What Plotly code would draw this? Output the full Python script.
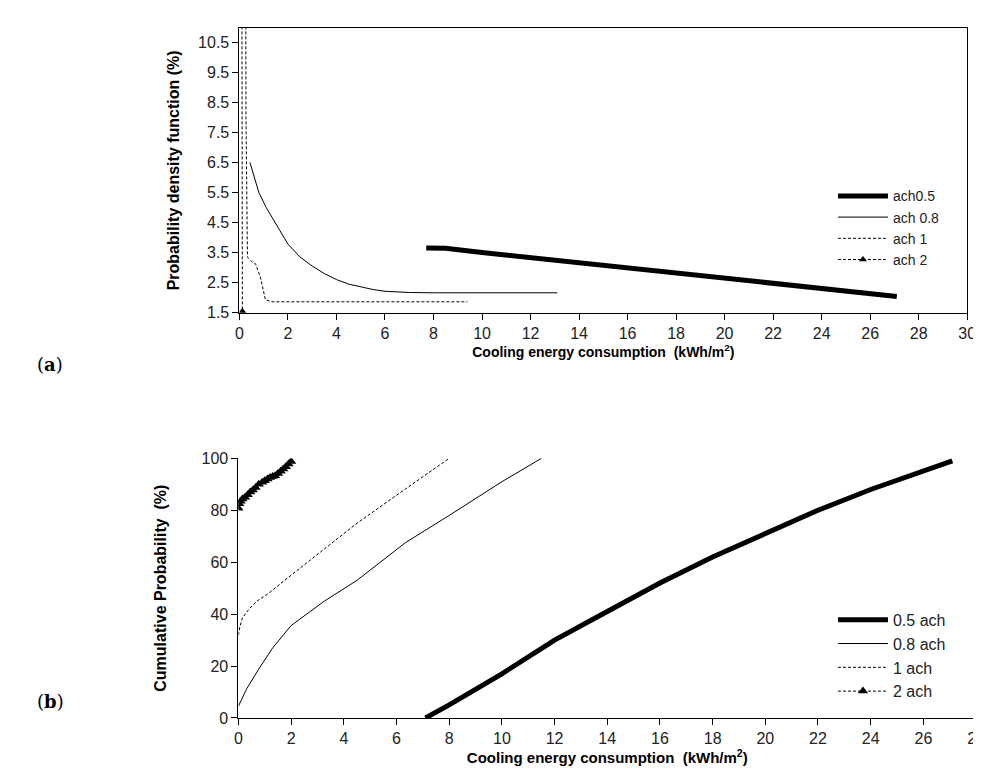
import plotly.graph_objects as go

# ---------- (a) Probability density function ----------
pdf_ach05_x = [7.7, 8.0, 8.5, 10, 12, 14, 16, 18, 20, 22, 24, 26, 27.1]
pdf_ach05_y = [3.65, 3.65, 3.64, 3.5, 3.33, 3.15, 2.98, 2.81, 2.65, 2.49, 2.33, 2.16, 2.04]
pdf_ach08_x = [0.43, 0.6, 0.8, 1.1, 1.5, 2.0, 2.5, 3.0, 3.5, 4.0, 4.5, 5.0, 5.5, 6.0, 6.5, 7.0, 8.0, 10, 12, 13.1]
pdf_ach08_y = [6.5, 6.0, 5.5, 5.0, 4.45, 3.78, 3.35, 3.05, 2.8, 2.6, 2.45, 2.35, 2.27, 2.21, 2.18, 2.17, 2.16, 2.16, 2.16, 2.16]
pdf_ach1_x = [0.22, 0.27, 0.33, 0.5, 0.66, 0.86, 1.07, 1.34, 9.4]
pdf_ach1_y = [25, 8, 3.35, 3.2, 3.13, 2.69, 1.93, 1.86, 1.86]
pdf_ach2_x = [0.08, 0.12]
pdf_ach2_y = [25, 1.55]

# ---------- (b) Cumulative probability ----------
cdf_05_x = [7.1, 8, 10, 12, 14, 16, 18, 20, 22, 24, 26, 27.1]
cdf_05_y = [0, 5, 17, 30, 41, 52, 62, 71, 80, 88, 95, 99]
cdf_08_x = [0, 0.3, 0.75, 1.3, 2.0, 3.26, 4.5, 6.35, 8, 10, 11.5]
cdf_08_y = [4.5, 11, 18.5, 27, 35.6, 45, 53, 67.6, 78, 91, 100]
cdf_1_x = [0, 0.05, 0.15, 0.39, 0.7, 1.14, 2, 3.26, 4.5, 6.35, 8.0]
cdf_1_y = [31.9, 35, 38.5, 41.8, 45, 48, 55, 65, 75, 88.3, 100]
cdf_2_x = [0, 0.03, 0.08, 0.15, 0.25, 0.35, 0.45, 0.55, 0.65, 0.77, 0.9, 1.0, 1.1, 1.2, 1.3, 1.39, 1.5, 1.6, 1.7, 1.8, 1.9, 2.0]
cdf_2_y = [80.8, 82.5, 83.5, 84.3, 85, 86, 87, 87.8, 88.8, 90, 90.8, 91.4, 92, 92.6, 93, 93.3, 94.2, 95, 95.9, 96.8, 97.8, 98.8]

top_names = ["ach0.5", "ach 0.8", "ach 1", "ach 2"]
bot_names = ["0.5 ach", "0.8 ach", "1 ach", "2 ach"]

W, H = 981, 773
FONT = "Liberation Sans, Arial, sans-serif"

def px(x):
    return x / W

def py(y):
    return 1 - y / H

fig = go.Figure()

def add(x, y, name, xa, ya, leg, width, dash, marker=False, grp="", msize=7):
    fig.add_trace(go.Scatter(
        x=x, y=y, name=name, xaxis=xa, yaxis=ya, legend=leg, legendgroup=grp,
        mode="lines+markers" if marker else "lines",
        line=dict(color="black", width=width, dash=dash),
        marker=dict(symbol="triangle-up", size=msize, color="black") if marker else None,
        cliponaxis=True,
    ))

add(pdf_ach05_x, pdf_ach05_y, top_names[0], "x", "y", "legend", 5, "solid", grp="t1")
add(pdf_ach08_x, pdf_ach08_y, top_names[1], "x", "y", "legend", 1, "solid", grp="t2")
add(pdf_ach1_x, pdf_ach1_y, top_names[2], "x", "y", "legend", 1, "3px,2px", grp="t3")
add(pdf_ach2_x, pdf_ach2_y, top_names[3], "x", "y", "legend", 1, "3px,2px", marker=True, grp="t4")

add(cdf_05_x, cdf_05_y, bot_names[0], "x2", "y2", "legend2", 5, "solid", grp="b1")
add(cdf_08_x, cdf_08_y, bot_names[1], "x2", "y2", "legend2", 1, "solid", grp="b2")
add(cdf_1_x, cdf_1_y, bot_names[2], "x2", "y2", "legend2", 1, "3px,2px", grp="b3")
add(cdf_2_x, cdf_2_y, bot_names[3], "x2", "y2", "legend2", 1, "3px,2px", marker=True, grp="b4", msize=9)

axis_common = dict(showline=True, linecolor="black", linewidth=1, ticks="outside",
                   ticklen=6, tickcolor="black", tickwidth=1, showgrid=False,
                   zeroline=False, tickfont=dict(family=FONT, size=16, color="#222"))

fig.update_layout(
    width=W, height=H,
    margin=dict(l=0, r=0, t=0, b=0),
    paper_bgcolor="white", plot_bgcolor="white",
    font=dict(family=FONT, color="black"),
    xaxis=dict(domain=[px(230.5), px(968)], range=[0, 30], tick0=0, dtick=2,
               anchor="y", mirror=True,
               title=dict(text="<b>Cooling energy consumption  (kWh/m<sup>2</sup>)</b>",
                          font=dict(family=FONT, size=14), standoff=2),
               **axis_common),
    yaxis=dict(domain=[py(303.3), py(12.3)], range=[1.5, 10.97], tick0=1.5, dtick=1,
               tickformat=".1f", anchor="x", mirror=True,
               title=dict(text="<b>Probability density function (%)</b>",
                          font=dict(family=FONT, size=16), standoff=14),
               **axis_common),
    xaxis2=dict(domain=[px(229.5), px(977)], range=[0, 28], tick0=0, dtick=2,
                anchor="y2",
                title=dict(text="<b>Cooling energy consumption  (kWh/m<sup>2</sup>)</b>",
                           font=dict(family=FONT, size=15), standoff=4),
                **axis_common),
    yaxis2=dict(domain=[py(717.7), py(452.3)], range=[0, 100], tick0=0, dtick=20,
                anchor="x2",
                title=dict(text="<b>Cumulative Probability  (%)</b>",
                           font=dict(family=FONT, size=16), standoff=30),
                **axis_common),
    legend=dict(x=px(832), y=py(168), xanchor="left", yanchor="top",
                bgcolor="rgba(0,0,0,0)", borderwidth=0, itemwidth=50,
                tracegroupgap=0, font=dict(family=FONT, size=14, color="#222")),
    legend2=dict(x=px(832), y=py(600), xanchor="left", yanchor="top",
                 bgcolor="rgba(0,0,0,0)", borderwidth=0, itemwidth=50,
                 tracegroupgap=0, font=dict(family=FONT, size=16, color="#222")),
    showlegend=True,
)

fig.add_annotation(text="(<b>a</b>)", x=px(23), y=py(356), xref="paper", yref="paper",
                   showarrow=False, font=dict(family="DejaVu Serif, serif", size=18, color="black"))
fig.add_annotation(text="(<b>b</b>)", x=px(23), y=py(714), xref="paper", yref="paper",
                   showarrow=False, font=dict(family="DejaVu Serif, serif", size=18, color="black"))

fig.write_html("out.html")
